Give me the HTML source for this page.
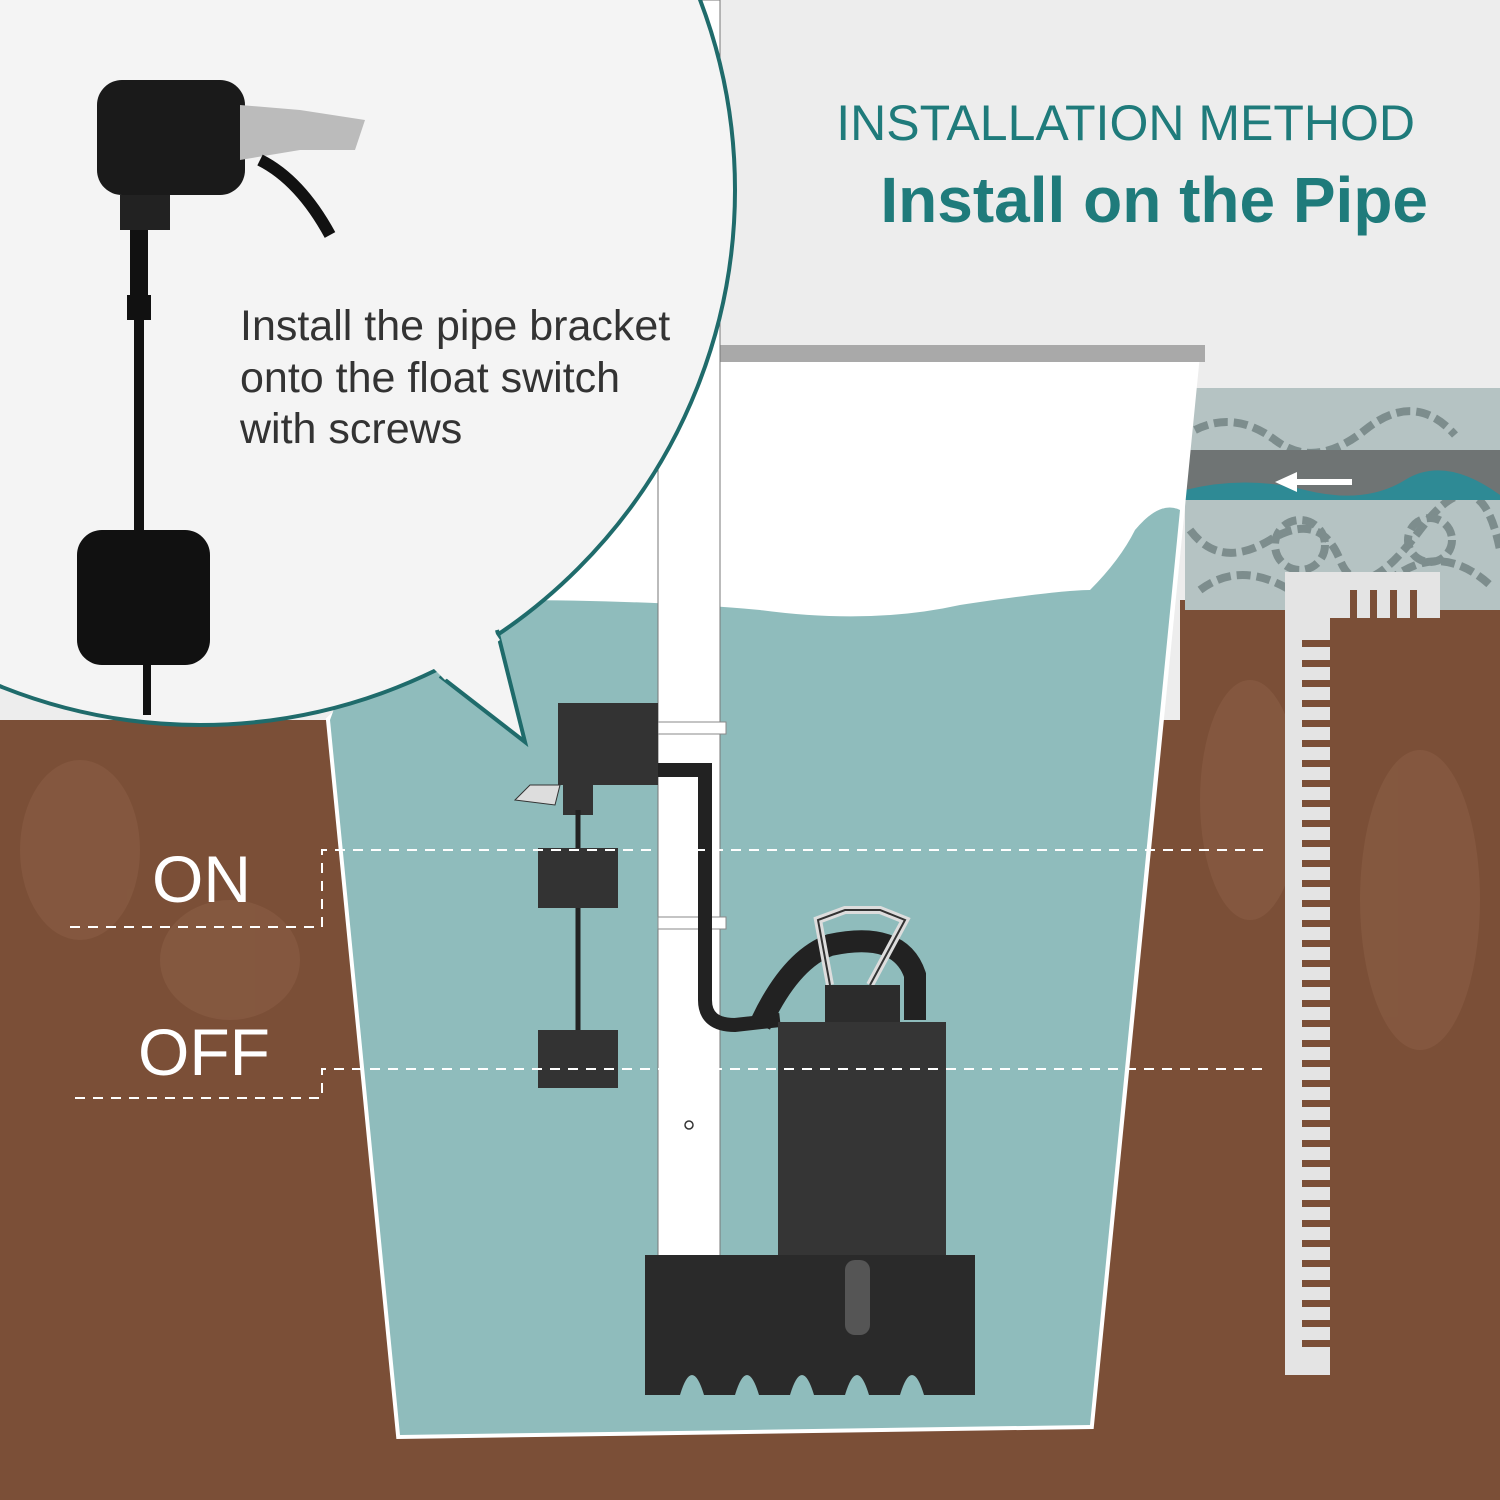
<!DOCTYPE html>
<html><head><meta charset="utf-8"><style>
html,body{margin:0;padding:0;width:1500px;height:1500px;overflow:hidden;background:#eee}
svg{display:block}
</style></head><body>
<svg width="1500" height="1500" viewBox="0 0 1500 1500" xmlns="http://www.w3.org/2000/svg">
<rect x="0" y="0" width="1500" height="1500" fill="#ededed"/>
<path d="M0 720 L1500 720 L1500 1500 L0 1500 Z" fill="#7b4f37"/>
<rect x="1180" y="600" width="320" height="130" fill="#7b4f37"/>
<g fill="#8a5e45" opacity="0.6">
<ellipse cx="80" cy="850" rx="60" ry="90"/><ellipse cx="230" cy="960" rx="70" ry="60"/>
<ellipse cx="1250" cy="800" rx="50" ry="120"/><ellipse cx="1420" cy="900" rx="60" ry="150"/>
</g>
<rect x="1185" y="388" width="315" height="222" fill="#b5c3c3"/>
<g fill="none" stroke="#7d8d8d" stroke-width="8" stroke-dasharray="14 6">
<path d="M1195 430 q40 -20 80 10 t90 -10 t90 5"/>
<path d="M1190 530 q30 40 80 10 t70 20 t80 -30 t80 20"/>
<path d="M1200 590 q40 -30 90 0 t100 -10 t100 5"/>
<circle cx="1300" cy="545" r="25"/><circle cx="1430" cy="540" r="22"/>
</g>
<rect x="1185" y="450" width="315" height="50" fill="#6f7474"/>
<path d="M1185 490 q60 -15 120 0 t100 -10 t95 15 L1500 500 L1185 500 Z" fill="#2e8a95"/>
<path d="M1275 482 l22 -10 l0 7 l55 0 l0 6 l-55 0 l0 7 Z" fill="#fff"/>
<path d="M1285 572 L1440 572 L1440 618 L1330 618 L1330 1375 L1285 1375 Z" fill="#e4e4e4"/>
<path d="M330 720 L720 350 L1195 365 L1090 1425 L400 1435 Z" fill="#fff" stroke="#fff" stroke-width="8"/>
<path d="M330 720 L370 610 L500 600 Q650 600 760 610 Q870 625 960 605 Q1060 590 1090 590 Q1120 560 1135 530 Q1160 500 1180 510 L1090 1425 L400 1435 Z" fill="#8fbcbc"/>
<rect x="720" y="345" width="485" height="17" fill="#a9a9a9"/>
<rect x="658" y="0" width="62" height="1260" fill="#fff" stroke="#777" stroke-width="1"/>
<circle cx="689" cy="1125" r="4" fill="none" stroke="#333" stroke-width="1.5"/>
<rect x="658" y="722" width="68" height="12" fill="#fff" stroke="#888"/>
<rect x="658" y="917" width="68" height="12" fill="#fff" stroke="#888"/>
<path d="M620 770 L705 770 L705 1000 Q705 1025 735 1025 L780 1020" fill="none" stroke="#222" stroke-width="14"/>
<path d="M760 1025 Q790 960 830 945 Q900 930 915 975 L915 1020" fill="none" stroke="#222" stroke-width="22"/>
<rect x="558" y="703" width="100" height="82" fill="#333"/>
<path d="M515 800 L530 785 L560 785 L555 805 Z" fill="#ddd" stroke="#333"/>
<rect x="563" y="785" width="30" height="30" fill="#333"/>
<line x1="578" y1="810" x2="578" y2="1035" stroke="#222" stroke-width="5"/>
<rect x="538" y="848" width="80" height="60" fill="#333"/>
<rect x="538" y="1030" width="80" height="58" fill="#333"/>
<path d="M830 985 L818 920 L845 910 L880 910 L905 920 L870 985" fill="none" stroke="#ddd" stroke-width="8"/>
<path d="M830 985 L818 920 L845 910 L880 910 L905 920 L870 985" fill="none" stroke="#333" stroke-width="2"/>
<rect x="825" y="985" width="75" height="40" fill="#2c2c2c"/>
<rect x="778" y="1022" width="168" height="240" fill="#353535"/>
<path d="M645 1255 L975 1255 L975 1395 L645 1395 Z" fill="#2a2a2a"/>
<g fill="#8fbcbc">
<path d="M680 1395 q12 -40 24 0 Z"/><path d="M735 1395 q12 -40 24 0 Z"/><path d="M790 1395 q12 -40 24 0 Z"/><path d="M845 1395 q12 -40 24 0 Z"/><path d="M900 1395 q12 -40 24 0 Z"/>
</g>
<rect x="845" y="1260" width="25" height="75" rx="10" fill="#555"/>
<g stroke="#fff" stroke-width="2" stroke-dasharray="10 8" fill="none">
<path d="M70 927 L322 927 L322 850 L1270 850"/>
<path d="M75 1098 L322 1098 L322 1069 L1265 1069"/>
</g>
<g font-family="Liberation Sans, sans-serif" fill="#fff" font-size="66">
<text x="152" y="902">ON</text>
<text x="138" y="1075">OFF</text>
</g>
<!-- bubble -->
<circle cx="200" cy="190" r="535" fill="#f4f4f4" stroke="#1f6b6b" stroke-width="4"/>
<path d="M440 676 L525 742 L497 630" fill="#f4f4f4" stroke="#1f6b6b" stroke-width="4" stroke-linejoin="miter"/>
<path d="M430 665 L445 680 L500 640 L490 625 Z" fill="#f4f4f4"/>
<!-- product -->
<rect x="97" y="80" width="148" height="115" rx="25" fill="#1a1a1a"/>
<path d="M240 105 L300 110 L365 120 L355 150 L300 150 L240 160 Z" fill="#bbb"/>
<path d="M260 160 Q300 180 330 235" fill="none" stroke="#111" stroke-width="12"/>
<rect x="120" y="195" width="50" height="35" fill="#222"/>
<rect x="130" y="230" width="18" height="65" fill="#111"/>
<rect x="127" y="295" width="24" height="25" fill="#111"/>
<rect x="134" y="320" width="10" height="210" fill="#111"/>
<rect x="77" y="530" width="133" height="135" rx="25" fill="#111"/>
<rect x="143" y="665" width="8" height="50" fill="#111"/>
<g font-family="Liberation Sans, sans-serif" fill="#333" font-size="43">
<text x="240" y="340">Install the pipe bracket</text>
<text x="240" y="392">onto the float switch</text>
<text x="240" y="443">with screws</text>
</g>
<text x="1415" y="140" text-anchor="end" font-family="Liberation Sans, sans-serif" font-size="50" fill="#1f7b7b">INSTALLATION METHOD</text>
<text x="1428" y="222" text-anchor="end" font-family="Liberation Sans, sans-serif" font-weight="bold" font-size="64" fill="#1f7b7b">Install on the Pipe</text>
<g fill="#7b4f37">
<rect x="1302" y="640" width="28" height="7"/><rect x="1302" y="660" width="28" height="7"/><rect x="1302" y="680" width="28" height="7"/><rect x="1302" y="700" width="28" height="7"/><rect x="1302" y="720" width="28" height="7"/><rect x="1302" y="740" width="28" height="7"/><rect x="1302" y="760" width="28" height="7"/><rect x="1302" y="780" width="28" height="7"/><rect x="1302" y="800" width="28" height="7"/><rect x="1302" y="820" width="28" height="7"/><rect x="1302" y="840" width="28" height="7"/><rect x="1302" y="860" width="28" height="7"/><rect x="1302" y="880" width="28" height="7"/><rect x="1302" y="900" width="28" height="7"/><rect x="1302" y="920" width="28" height="7"/><rect x="1302" y="940" width="28" height="7"/><rect x="1302" y="960" width="28" height="7"/><rect x="1302" y="980" width="28" height="7"/><rect x="1302" y="1000" width="28" height="7"/><rect x="1302" y="1020" width="28" height="7"/><rect x="1302" y="1040" width="28" height="7"/><rect x="1302" y="1060" width="28" height="7"/><rect x="1302" y="1080" width="28" height="7"/><rect x="1302" y="1100" width="28" height="7"/><rect x="1302" y="1120" width="28" height="7"/><rect x="1302" y="1140" width="28" height="7"/><rect x="1302" y="1160" width="28" height="7"/><rect x="1302" y="1180" width="28" height="7"/><rect x="1302" y="1200" width="28" height="7"/><rect x="1302" y="1220" width="28" height="7"/><rect x="1302" y="1240" width="28" height="7"/><rect x="1302" y="1260" width="28" height="7"/><rect x="1302" y="1280" width="28" height="7"/><rect x="1302" y="1300" width="28" height="7"/><rect x="1302" y="1320" width="28" height="7"/><rect x="1302" y="1340" width="28" height="7"/>
<rect x="1350" y="590" width="7" height="28"/><rect x="1370" y="590" width="7" height="28"/><rect x="1390" y="590" width="7" height="28"/><rect x="1410" y="590" width="7" height="28"/>
</g>
</svg>
</body></html>
